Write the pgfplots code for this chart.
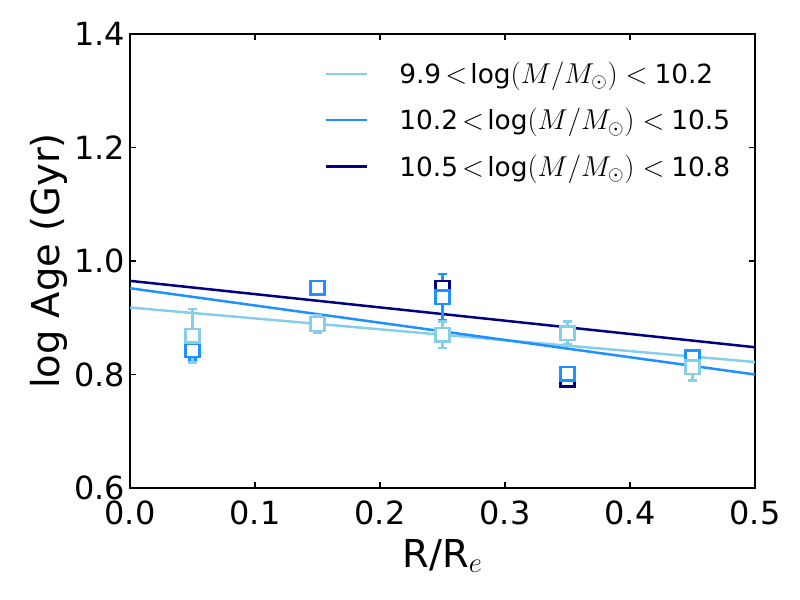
\documentclass[border=0pt]{standalone}
\usepackage{pgfplots}
\pgfplotsset{compat=1.18}
\usepackage{pgfplotstable}
\usepackage{fontspec}
\setmainfont{DejaVu Sans}
\definecolor{c1}{HTML}{87CEEB}
\definecolor{c2}{HTML}{1E90FF}
\definecolor{c3}{HTML}{000080}
\pgfplotstableread{
x y e
0.05 0.843 0.010
0.15 0.953 0.010
0.25 0.953 0.010
0.35 0.791 0.010
0.45 0.830 0.010
}\darkdata
\pgfplotstableread{
x y e
0.05 0.843 0.017
0.15 0.953 0.010
0.25 0.936 0.041
0.35 0.801 0.010
0.45 0.830 0.010
}\meddata
\pgfplotstableread{
x y e
0.05 0.868 0.047
0.15 0.889 0.016
0.25 0.870 0.023
0.35 0.873 0.020
0.45 0.813 0.024
}\lightdata
\newcommand{\massbin}[2]{#1\hspace{3bp}$<\!\log(M/M_\odot)<$\hspace{5bp}#2}
\begin{document}
\begin{tikzpicture}
\useasboundingbox (-93.6bp,-80.64bp) rectangle ++(576bp,432bp);
\begin{axis}[
  at={(0,0)}, anchor=south west,
  scale only axis, width=450bp, height=326.9bp,
  xmin=0, xmax=0.5, ymin=0.6, ymax=1.4,
  xtick={0,0.1,...,0.5}, ytick={0.6,0.8,...,1.4},
  minor tick num=0,
  tick style={black, line width=0.8bp},
  major tick length=4.5bp,
  axis line style={line width=0.9bp},
  tick label style={font=\fontsize{23bp}{27bp}\selectfont},
  xticklabel style={yshift=-5.5bp},
  /pgf/number format/assume math mode=true,
  /pgf/number format/.cd, fixed, fixed zerofill, precision=1, /pgfplots/.cd,
  xlabel={R/R$_e$}, ylabel={log Age (Gyr)},
  label style={font=\fontsize{27.7bp}{32bp}\selectfont},
  xlabel style={yshift=-4bp},
  ylabel style={yshift=-2bp},
  legend style={draw=none, fill=none, at={(0.965,0.945)}, anchor=north east,
    font=\fontsize{19bp}{23bp}\selectfont, row sep=12.5bp, inner sep=0pt},
  legend cell align=left,
  legend image code/.code={\draw[#1] (0bp,0bp) -- (29.5bp,0bp);
    \path (50bp,0bp);},
]
\addplot[c1, line width=1.8bp] coordinates {(0,0.918) (0.5,0.822)};
\addlegendentry{\massbin{9.9}{10.2}}
\addplot[c2, line width=1.8bp] coordinates {(0,0.952) (0.5,0.800)};
\addlegendentry{\massbin{10.2}{10.5}}
\addplot[c3, line width=1.8bp] coordinates {(0,0.965) (0.5,0.848)};
\addlegendentry{\massbin{10.5}{10.8}}
\pgfplotsset{errstyle/.style={only marks, mark=square*, mark size=4.9bp,
  mark options={fill=white, draw=#1, line width=1.8bp},
  error bars/.cd, y dir=both, y explicit,
  error bar style={#1, line width=1.8bp},
  error mark options={rotate=90, mark size=3bp, line width=1.8bp, #1},
  /pgfplots/.cd}}
\addplot[forget plot, errstyle=c3] table[x=x, y=y, y error=e] {\darkdata};
\addplot[forget plot, errstyle=c2] table[x=x, y=y, y error=e] {\meddata};
\addplot[forget plot, errstyle=c1] table[x=x, y=y, y error=e] {\lightdata};
\end{axis}
\end{tikzpicture}
\end{document}
